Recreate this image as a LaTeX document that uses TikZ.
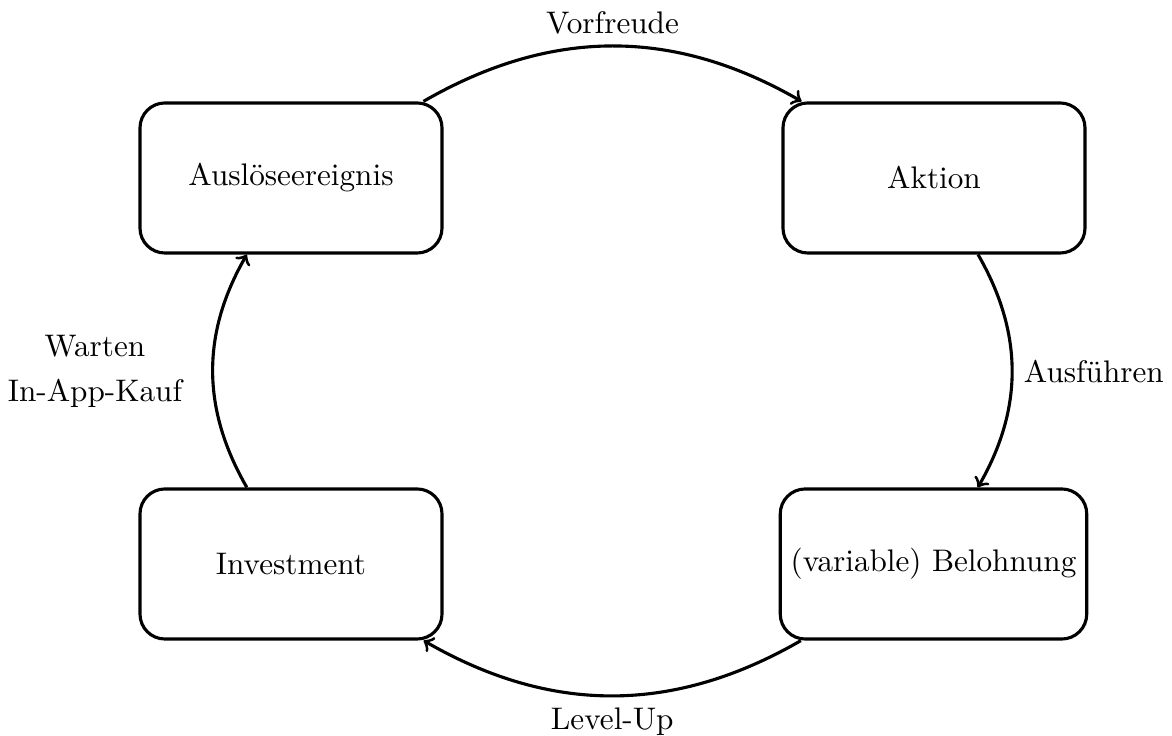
\documentclass[tikz,border=0pt]{standalone}
\begin{document}
\begin{tikzpicture}[x=0.32051pt,y=-0.32051pt,
  box/.style={draw,line width=1pt,rounded corners=8pt,minimum width=96.8pt,minimum height=48.1pt,inner sep=3.33pt},
  conn/.style={->,line width=1pt}]
\useasboundingbox (0,0) rectangle (1172,736);
\node[box] (a) at (291,178) {Auslöseereignis};
\node[box] (b) at (934,178) {Aktion};
\node[box] (c) at (933.5,564) {(variable) Belohnung};
\node[box] (d) at (291,564) {Investment};
\draw[conn] (a) to[bend left] node[above] (la) {Vorfreude} (b);
\draw[conn] (b) to[bend left] node[right] (lb) {Ausführen} (c);
\draw[conn] (c) to[bend left] node[below] (lc) {Level-Up} (d);
\draw[conn] (d) to[bend left] node[left=6pt,align=center] (ld) {Warten\\[2.4pt]In-App-Kauf} (a);
\end{tikzpicture}
\end{document}
